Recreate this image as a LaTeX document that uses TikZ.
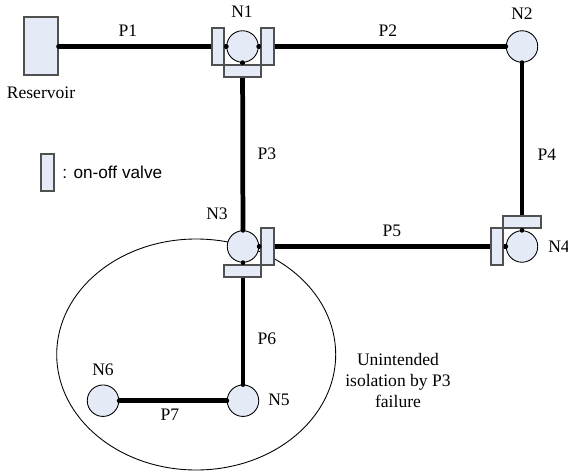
\documentclass[tikz,border=0pt]{standalone}
\usepackage{xcolor}
\usepackage{fontspec}
\setmainfont{Liberation Serif}
\setsansfont{Liberation Sans}
\definecolor{nodefill}{RGB}{228, 235, 246}
\definecolor{boxline}{RGB}{80, 80, 80}
\tikzset{
    junction/.style={circle, draw=black, fill=nodefill, line width=0.5pt, minimum size=0.63cm, inner sep=0pt},
    valvebox/.style={draw=boxline, fill=nodefill, line width=0.6pt},
    pipe/.style={line width=2.7pt, line cap=round},
    label/.style={font=\fontsize{10pt}{12.2pt}\selectfont, inner sep=0pt}
}
\begin{document}
\begin{tikzpicture}[x=0.02cm, y=-0.02cm]
    \useasboundingbox (0,0) rectangle (568,473);

    % Isolated zone
    \draw[line width=0.5pt] (196.2,354.5) ellipse (139.5 and 115.5);

    % Reservoir and junctions
    \node[valvebox, minimum width=0.68cm, minimum height=1.16cm, inner sep=0pt] (res) at (41,46) {};
    \coordinate (n1) at (242.5,46.5);
    \coordinate (n2) at (522,46.5);
    \coordinate (n3) at (243,246.5);
    \coordinate (n4) at (522,246.5);
    \coordinate (n5) at (243,400.7);
    \coordinate (n6) at (103,400.7);

    % Pipes
    \draw[pipe] (res.east |- n1) -- (n1);
    \draw[pipe] (n1) -- (n2);
    \draw[pipe] (n1) -- (n3);
    \draw[pipe] (n2) -- (n4);
    \draw[pipe] (n3) -- (n4);
    \draw[pipe] (n3) -- (n5);
    \draw[pipe] (n5) -- (n6);

    % Valves
    \foreach \x/\y/\w/\h in {212/28/12/37, 261/28/13/37, 224/65/37/12,
                             261/228/13/37, 224/265/37/12,
                             503/216/38/12, 491/228/12/37, 41/154/13/37} {
        \draw[valvebox] (\x,\y) rectangle ++(\w,\h);
    }

    % Junctions
    \foreach \name in {n1, n2, n3, n4, n5, n6} {
        \node[junction] (\name c) at (\name) {};
    }

    % Pipe ends on top of the valves
    \foreach \spot in {n1c.west, n1c.east, n1c.south, n2c.west, n2c.south, n3c.north, n3c.east, n3c.south, n4c.north, n4c.west, n5c.north, n5c.west, n6c.east} {
        \fill (\spot) circle (2.4);
    }

    % Labels
    \node[label] (reslabel) at (41,93) {Reservoir};
    \foreach \x/\y/\txt in {128/31/P1, 388/31/P2, 267/154/P3, 547/155/P4, 392/231/P5, 267/339/P6, 170/415/P7,
                            242/12/N1, 522/14/N2, 217/214/N3, 559/247/N4, 279/400/N5, 103/370/N6} {
        \node[label] (label\txt) at (\x,\y) {\txt};
    }
    \node[label, align=center] (zonelabel) at (398,380.5) {Unintended\\isolation by P3\\failure};
    \node[label, anchor=west, font=\fontsize{9.8pt}{11pt}\selectfont\sffamily] (valvelabel) at (62,172.5) {: on-off valve};
\end{tikzpicture}
\end{document}
